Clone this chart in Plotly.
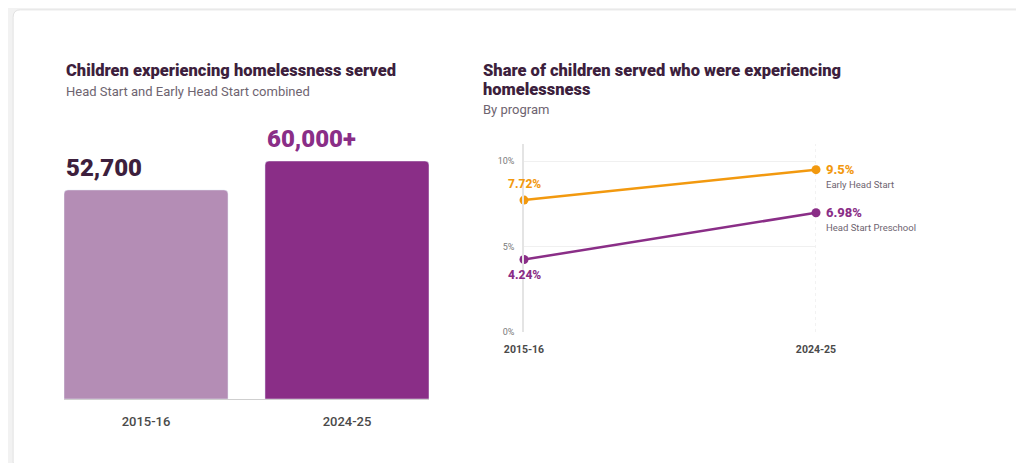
import plotly.graph_objects as go

years = ["2015-16", "2024-25"]
served = [52700, 60000]
served_labels = ["52,700", "60,000+"]
bar_colors = ["#b48db5", "#8a2e87"]
label_colors = ["#3d1f3d", "#8a2e87"]

ehs = [7.72, 9.5]
hsp = [4.24, 6.98]

W, H = 1024, 463
def px(x): return x / W
def py(y): return 1 - y / H

DARK = "#3d1f3d"
ORANGE = "#f2990f"
PURPLE = "#8a2e87"
GREY = "#6e6470"
FONT = "Roboto"

fig = go.Figure()
fig.add_trace(go.Bar(x=[0, 1], y=served, width=0.816, marker_color=bar_colors,
                     xaxis="x", yaxis="y", hoverinfo="skip"))
fig.add_trace(go.Scatter(x=[0, 1], y=ehs, mode="lines+markers", line=dict(color=ORANGE, width=2.5),
                         marker=dict(size=9), xaxis="x2", yaxis="y2", name="Early Head Start",
                         cliponaxis=False))
fig.add_trace(go.Scatter(x=[0, 1], y=hsp, mode="lines+markers", line=dict(color=PURPLE, width=2.5),
                         marker=dict(size=9), xaxis="x2", yaxis="y2", name="Head Start Preschool",
                         cliponaxis=False))

ann = []
def t(x, y, text, size, color, weight=400, xanchor="left", yanchor="middle", **kw):
    ann.append(dict(x=x, y=y, text=text, showarrow=False, xanchor=xanchor, yanchor=yanchor,
                    font=dict(family=FONT, size=size, color=color, weight=weight), **kw))

t(px(56), py(62), "Children experiencing homelessness served", 16.5, DARK, 900, xref="paper", yref="paper")
t(px(56), py(83), "Head Start and Early Head Start combined", 13, GREY, xref="paper", yref="paper")
t(px(473), py(62), "Share of children served who were experiencing", 16.5, DARK, 900, xref="paper", yref="paper")
t(px(473), py(82), "homelessness", 16.5, DARK, 900, xref="paper", yref="paper")
t(px(473), py(102), "By program", 13, GREY, xref="paper", yref="paper")

for i in range(2):
    ann.append(dict(x=i - 0.408, y=served[i], xref="x", yref="y", text=served_labels[i], showarrow=False,
                    xanchor="left", yanchor="bottom", yshift=6,
                    font=dict(family=FONT, size=24, color=label_colors[i], weight=900)))

ann.append(dict(x=0, y=ehs[0], xref="x2", yref="y2", text=f"{ehs[0]}%", showarrow=False, yshift=16,
                font=dict(family=FONT, size=12, color=ORANGE, weight=800)))
ann.append(dict(x=0, y=hsp[0], xref="x2", yref="y2", text=f"{hsp[0]}%", showarrow=False, yshift=-15,
                font=dict(family=FONT, size=12, color=PURPLE, weight=800)))
ann.append(dict(x=1, y=ehs[1], xref="x2", yref="y2", text=f"{ehs[1]}%", showarrow=False, xanchor="left",
                xshift=8, font=dict(family=FONT, size=13, color=ORANGE, weight=800)))
ann.append(dict(x=1, y=ehs[1], xref="x2", yref="y2", text="Early Head Start", showarrow=False, xanchor="left",
                xshift=8, yshift=-15, font=dict(family=FONT, size=9.5, color=GREY)))
ann.append(dict(x=1, y=hsp[1], xref="x2", yref="y2", text=f"{hsp[1]}%", showarrow=False, xanchor="left",
                xshift=8, font=dict(family=FONT, size=13, color=PURPLE, weight=800)))
ann.append(dict(x=1, y=hsp[1], xref="x2", yref="y2", text="Head Start Preschool", showarrow=False, xanchor="left",
                xshift=8, yshift=-15, font=dict(family=FONT, size=9.5, color=GREY)))

card = "M 0.012 0.004 L 0.988 0.004 Q 0.995 0.004 0.995 0.02 L 0.995 0.98 Q 0.995 0.996 0.988 0.996 L 0.012 0.996 Q 0.005 0.996 0.005 0.98 L 0.005 0.02 Q 0.005 0.004 0.012 0.004 Z"

fig.update_layout(
    width=W, height=H, margin=dict(l=0, r=0, t=0, b=0, autoexpand=False),
    paper_bgcolor="#f2f2f2", plot_bgcolor="rgba(0,0,0,0)", showlegend=False,
    barcornerradius=4, annotations=ann,
    shapes=[dict(type="path", path=card, xref="paper", yref="paper", fillcolor="white",
                 line=dict(color="#e2e2e2", width=1), layer="below"),
            dict(type="line", x0=1, x1=1, y0=0, y1=11, xref="x2", yref="y2",
                 line=dict(color="#e4e4e4", width=1, dash="dot"), layer="below")],
    xaxis=dict(domain=[px(56), px(421)], range=[-0.408, 1.408], tickvals=[0, 1], ticktext=years,
               showgrid=False, zeroline=False, showline=True, linecolor="#cfcfcf", automargin=False,
               tickfont=dict(family=FONT, size=13, color="#4a4a4a", weight=500),
               ticks="outside", ticklen=10, tickcolor="rgba(0,0,0,0)"),
    yaxis=dict(domain=[py(391), py(153)], range=[0, 60000], visible=False),
    xaxis2=dict(domain=[px(516), px(808)], range=[0, 1], tickvals=[0, 1], ticktext=years,
                showgrid=False, zeroline=False, anchor="y2", automargin=False,
                ticks="outside", ticklen=7, tickcolor="rgba(0,0,0,0)",
                tickfont=dict(family=FONT, size=10.5, color="#4a4a4a", weight=700)),
    yaxis2=dict(domain=[py(324), py(136)], range=[0, 11], tickvals=[0, 5, 10],
                ticktext=["0%", "5%", "10%"], anchor="x2", showgrid=True, gridcolor="#f0f0f0",
                zeroline=False, showline=True, linecolor="#e4e4e4", linewidth=1.5, automargin=False,
                tickfont=dict(family=FONT, size=9, color="#7a7a7a"),
                ticks="outside", ticklen=6, tickcolor="rgba(0,0,0,0)"),
)
fig.write_html("out.html")
